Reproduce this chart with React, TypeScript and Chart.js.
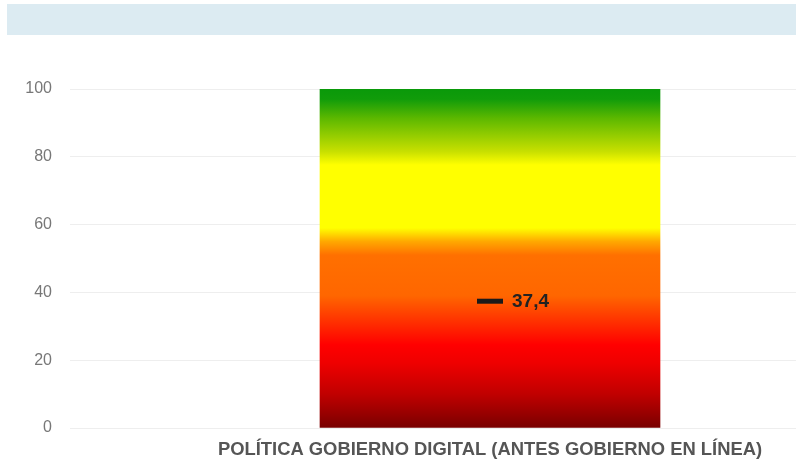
import React, { useEffect, useRef } from "react";
import { Chart, registerables } from "chart.js";

Chart.register(...registerables);

// ---- data ----
const categories = ["POLÍTICA GOBIERNO DIGITAL (ANTES GOBIERNO EN LÍNEA)"];
const scaleValues = [100];
const scoreValues = [37.4];
const scoreLabels = ["37,4"];
const yTickMin = 0;
const yTickMax = 100;
const yTickStep = 20;

// ---- style ----
const FONT = "'Liberation Sans', Arial, Helvetica, sans-serif";
const gradientStops: [number, string][] = [
  [0, "#780000"],
  [0.04, "#960000"],
  [0.1, "#c00000"],
  [0.19, "#ee0000"],
  [0.245, "#ff0000"],
  [0.39, "#ff6600"],
  [0.51, "#ff7000"],
  [0.55, "#ffa800"],
  [0.59, "#ffff00"],
  [0.776, "#ffff00"],
  [0.815, "#c8e000"],
  [0.914, "#5cb800"],
  [0.97, "#119c0a"],
  [1, "#0a990a"],
];

const valueLabelPlugin = {
  id: "valueLabel",
  afterDatasetsDraw(chart: any) {
    const meta = chart.getDatasetMeta(1);
    const ctx = chart.ctx;
    ctx.save();
    ctx.font = `bold 19px ${FONT}`;
    ctx.fillStyle = "#222222";
    ctx.textAlign = "left";
    ctx.textBaseline = "middle";
    meta.data.forEach((pt: any, i: number) => {
      ctx.fillText(scoreLabels[i], pt.x + 22, pt.y + 1);
    });
    ctx.restore();
  },
};

export default function App() {
  const ref = useRef<HTMLCanvasElement | null>(null);

  useEffect(() => {
    if (!ref.current) return;
    const chart = new Chart(ref.current, {
      type: "bar",
      data: {
        labels: categories,
        datasets: [
          {
            type: "bar",
            data: scaleValues,
            order: 1,
            barThickness: 340,
            borderWidth: 0,
            backgroundColor: (c: any) => {
              const ch = c.chart;
              const y = ch.scales && ch.scales.y;
              if (!ch.chartArea || !y) return "#ff7000";
              const y0 = y.getPixelForValue(yTickMin);
              const y1 = y.getPixelForValue(yTickMax);
              const g = ch.ctx.createLinearGradient(0, y0, 0, y1);
              gradientStops.forEach(([o, col]) => g.addColorStop(o, col));
              return g;
            },
          } as any,
          {
            type: "line",
            data: scoreValues,
            order: 0,
            showLine: false,
            pointStyle: "line",
            pointRadius: 13,
            pointHoverRadius: 13,
            pointBorderWidth: 5,
            pointBorderColor: "#1a1a1a",
            pointBackgroundColor: "#1a1a1a",
          } as any,
        ],
      },
      options: {
        animation: false,
        responsive: false,
        devicePixelRatio: 1,
        layout: { padding: { top: 89, left: 0, right: 0, bottom: 0 } },
        plugins: {
          legend: { display: false },
          tooltip: { enabled: false },
        },
        scales: {
          x: {
            grid: { display: false, drawTicks: false },
            border: { display: false },
            ticks: {
              padding: 11,
              color: "#555555",
              font: { family: FONT, size: 18.4, weight: "bold" },
              maxRotation: 0,
              autoSkip: false,
            },
            afterFit: (s: any) => {
              s.height = 32;
            },
          },
          y: {
            min: yTickMin,
            max: yTickMax,
            grid: { color: "#eeeeee", lineWidth: 1, drawTicks: false },
            border: { display: false },
            ticks: {
              stepSize: yTickStep,
              padding: 18,
              color: "#777777",
              font: { family: FONT, size: 16 },
            },
            afterFit: (s: any) => {
              s.width = 70;
            },
          },
        },
      } as any,
      plugins: [valueLabelPlugin],
    });
    return () => chart.destroy();
  }, []);

  return (
    <div
      style={{
        position: "absolute",
        left: 0,
        top: 0,
        width: 796,
        height: 460,
        overflow: "hidden",
        background: "#ffffff",
      }}
    >
      <div
        style={{
          position: "absolute",
          left: 7,
          top: 4,
          width: 789,
          height: 31,
          background: "#dcebf2",
        }}
      />
      <canvas
        ref={ref}
        width={928}
        height={460}
        style={{ position: "absolute", left: 0, top: 0, width: 928, height: 460 }}
      />
    </div>
  );
}
